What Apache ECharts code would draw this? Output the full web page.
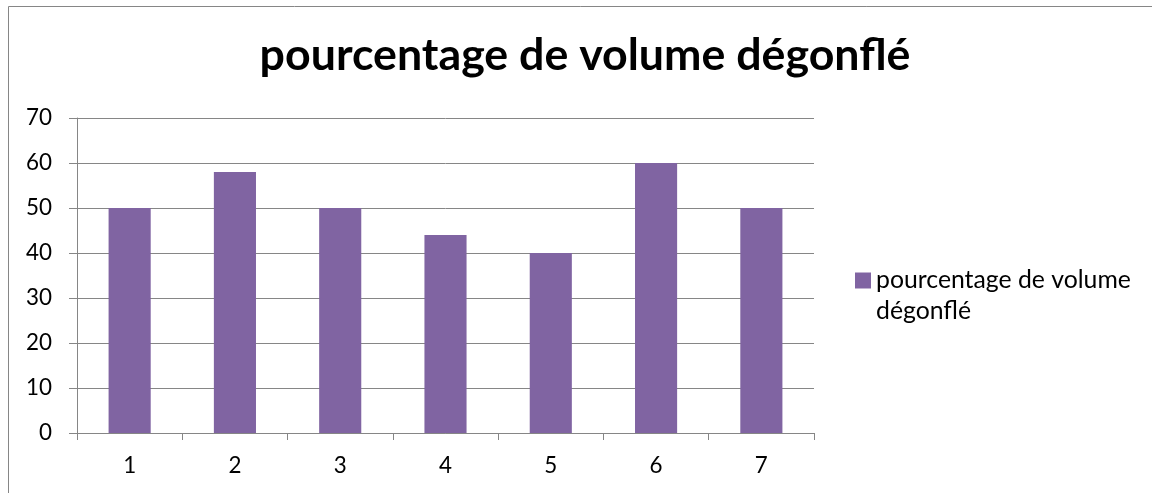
<!DOCTYPE html>
<html>
<head>
<meta charset="utf-8">
<script src="https://cdn.jsdelivr.net/npm/echarts@6/dist/echarts.min.js"></script>
<style>
  html, body { margin: 0; padding: 0; background: #fff; }
  #chart { width: 1152px; height: 493px; }
</style>
</head>
<body>
<div id="chart"></div>
<script>
// données du graphique
const titre = 'pourcentage de volume dégonflé'
const legendeLignes = ['pourcentage de volume', 'dégonflé']
const categories = ['1', '2', '3', '4', '5', '6', '7']
const valeurs = [50, 58, 50, 44, 40, 60, 50]
const yMin = 0
const yMax = 70
const yPas = 10

const police = 'Lato, "Liberation Sans", sans-serif'
const gris = '#868686'

// taille de police pour qu'un texte fasse la largeur voulue (Calibri absent)
const ctx = document.createElement('canvas').getContext('2d')
function fitSize(texte, graisse, largeur) {
  ctx.font = graisse + ' 100px ' + police
  return 100 * largeur / ctx.measureText(texte).width
}
const tailleTitre = fitSize(titre, 'bold', 651)
const tailleLegende = fitSize(legendeLignes[0], 'normal', 255)
const tailleAxe = fitSize('70', 'normal', 26)

const myChart = echarts.init(document.getElementById('chart'))

const options = {
  animation: false,
  // cadre du graphique (bords droit et bas hors image)
  graphic: [{
    type: 'rect',
    shape: { x: 8.5, y: 6.5, width: 1300, height: 700 },
    style: { fill: 'none', stroke: gris, lineWidth: 1 },
    silent: true
  }],
  title: {
    text: titre,
    left: 585,
    top: Math.round(70 - 0.83 * tailleTitre),
    textAlign: 'center',
    padding: 0,
    textStyle: {
      fontFamily: police,
      fontWeight: 'bold',
      fontSize: tailleTitre,
      color: '#000'
    }
  },
  legend: {
    data: [titre],
    left: 855,
    top: 234,
    padding: 0,
    icon: 'rect',
    itemWidth: 16,
    itemHeight: 16,
    // ligne vide devant : le carré se retrouve en face de la première ligne
    formatter: () => '\n' + legendeLignes.join('\n'),
    textStyle: {
      fontFamily: police,
      fontSize: tailleLegende,
      color: '#000',
      lineHeight: 31
    }
  },
  grid: {
    left: 77,
    right: 338,
    top: 118,
    bottom: 60,
    containLabel: false
  },
  xAxis: {
    type: 'category',
    data: categories,
    axisLine: { show: true, lineStyle: { color: gris, width: 1 } },
    axisTick: { show: true, length: 7, alignWithLabel: false, lineStyle: { color: gris } },
    axisLabel: {
      margin: Math.round(33 - tailleAxe / 2),
      fontFamily: police,
      fontSize: tailleAxe,
      color: '#000'
    },
    splitLine: { show: false }
  },
  yAxis: {
    type: 'value',
    min: yMin,
    max: yMax,
    interval: yPas,
    axisLine: { show: true, lineStyle: { color: gris, width: 1 } },
    axisTick: { show: true, length: 8, lineStyle: { color: gris } },
    axisLabel: {
      margin: 25,
      fontFamily: police,
      fontSize: tailleAxe,
      color: '#000'
    },
    splitLine: { show: true, lineStyle: { color: gris, width: 1 } }
  },
  series: [{
    name: titre,
    type: 'bar',
    data: valeurs,
    barWidth: '40%',
    itemStyle: { color: '#8064A2' }
  }]
}

myChart.setOption(options)
</script>
</body>
</html>
